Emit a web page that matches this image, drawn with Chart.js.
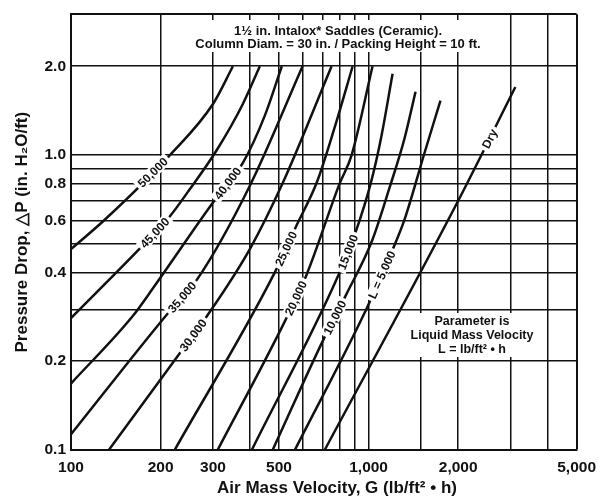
<!DOCTYPE html>
<html lang="en">
  <head>
    <meta charset="UTF-8" />
    <title>Pressure Drop - Intalox Saddles</title>
    <script src="https://cdn.jsdelivr.net/npm/chart.js"></script>
    <style>
      html,
      body {
        margin: 0;
        padding: 0;
        background: #fff;
      }
    </style>
  </head>
  <body>
    <canvas id="grafico" width="604" height="496"></canvas>

    <script>
      // Air mass velocity G (lb/ft2 h) vs pressure drop (in. H2O/ft), one pair per curve
      const G_50K = [100, 129, 215, 300, 350];
      const P_50K = [0.48, 0.6, 1.0, 1.49, 2.0];
      const G_45K = [100, 173, 215, 247, 309, 378, 431];
      const P_45K = [0.28, 0.49, 0.62, 0.75, 1.04, 1.49, 2.0];
      const G_40K = [100, 161, 188, 300, 378, 448, 511];
      const P_40K = [0.168, 0.284, 0.352, 0.69, 0.94, 1.36, 2.0];
      const G_35K = [100, 210, 265, 399, 600];
      const P_35K = [0.113, 0.288, 0.378, 0.787, 2.0];
      const G_30K = [134, 232, 286, 399, 515, 751];
      const P_30K = [0.1, 0.213, 0.284, 0.48, 0.805, 2.0];
      const G_25K = [223, 484, 573, 669, 769, 884];
      const P_25K = [0.1, 0.4, 0.578, 0.805, 1.24, 2.0];
      const G_20K = [311, 523, 619, 799, 877, 1031];
      const P_20K = [0.1, 0.273, 0.393, 0.8, 1.0, 2.0];
      const G_15K = [405, 799, 911, 1016, 1097, 1204];
      const P_15K = [0.1, 0.4, 0.56, 0.8, 1.12, 1.885];
      const G_10K = [476, 701, 844, 1023, 1176, 1321, 1438];
      const P_10K = [0.1, 0.234, 0.339, 0.507, 0.775, 1.14, 1.64];
      const G_5K = [565, 985, 1195, 1321, 1541, 1744];
      const P_5K = [0.1, 0.302, 0.469, 0.605, 1.016, 1.53];
      const G_DRY = [712, 2000, 3113];
      const P_DRY = [0.1, 0.7, 1.7];

      // curve labels and the G where each label sits on its curve
      const NOMES = ["50,000", "45,000", "40,000", "35,000", "30,000", "25,000", "20,000", "15,000", "10,000", "L = 5,000", "Dry"];
      const G_ROTULO = [188, 191, 336, 236, 257, 527, 569, 850, 769, 1106, 2547];

      // axis ticks
      const G_GRADE = [100, 200, 300, 400, 500, 600, 700, 800, 900, 1000, 1500, 2000, 3000, 4000, 5000];
      const G_TEXTO = [100, 200, 300, 500, 1000, 2000, 5000];
      const P_GRADE = [0.1, 0.2, 0.3, 0.4, 0.5, 0.6, 0.7, 0.8, 0.9, 1, 2, 3];
      const P_TEXTO = [0.1, 0.2, 0.4, 0.6, 0.8, 1, 2];

      const curvasG = [G_50K, G_45K, G_40K, G_35K, G_30K, G_25K, G_20K, G_15K, G_10K, G_5K, G_DRY];
      const curvasP = [P_50K, P_45K, P_40K, P_35K, P_30K, P_25K, P_20K, P_15K, P_10K, P_5K, P_DRY];

      const FONTE = "'Liberation Sans', Arial, sans-serif";
      const PRETO = "#111";

      // labels on the curves, text boxes and x title
      const rotulos = {
        id: "rotulos",
        afterDatasetsDraw(chart) {
          const ctx = chart.ctx;
          const xs = chart.scales.x;
          ctx.save();
          ctx.textAlign = "center";
          ctx.textBaseline = "middle";

          ctx.font = "bold 12px " + FONTE;
          NOMES.forEach((nome, i) => {
            const pts = chart.getDatasetMeta(i).data;
            const px = xs.getPixelForValue(G_ROTULO[i]);
            let k = 0;
            while (k < pts.length - 2 && pts[k + 1].x < px) k++;
            const a = pts[k];
            const b = pts[k + 1];
            const t = (px - a.x) / (b.x - a.x);
            const py = a.y + t * (b.y - a.y);
            const ang = Math.atan2(b.y - a.y, b.x - a.x);
            const w = ctx.measureText(nome).width;
            ctx.save();
            ctx.translate(px, py);
            ctx.rotate(ang);
            ctx.fillStyle = "#fff";
            ctx.fillRect(-w / 2 - 3, -6, w + 6, 12);
            ctx.fillStyle = PRETO;
            ctx.fillText(nome, 0, 1);
            ctx.restore();
          });

          // title block
          ctx.font = "bold 13px " + FONTE;
          ctx.fillStyle = "#fff";
          ctx.fillRect(193, 20, 290, 32);
          ctx.fillStyle = PRETO;
          ctx.fillText("1½ in. Intalox* Saddles (Ceramic).", 338, 31);
          ctx.fillText("Column Diam. = 30 in. / Packing Height = 10 ft.", 338, 44);

          // parameter block
          ctx.font = "bold 12.5px " + FONTE;
          ctx.fillStyle = "#fff";
          ctx.fillRect(406, 313, 134, 44);
          ctx.fillStyle = PRETO;
          ctx.fillText("Parameter is", 472, 322);
          ctx.fillText("Liquid Mass Velocity", 472, 336);
          ctx.fillText("L = lb/ft² • h", 472, 350);

          ctx.font = "bold 17px " + FONTE;
          ctx.fillText("Air Mass Velocity, G (lb/ft² • h)", 337, 488);
          ctx.restore();
        },
      };

      const ctx = document.getElementById("grafico").getContext("2d");

      new Chart(ctx, {
        type: "scatter",
        data: {
          datasets: curvasG.map((gs, i) => ({
            label: NOMES[i],
            data: gs.map((g, j) => ({ x: g, y: curvasP[i][j] })),
            showLine: true,
            borderColor: PRETO,
            borderWidth: 2.5,
            pointRadius: 0,
            cubicInterpolationMode: "monotone",
            fill: false,
          })),
        },
        options: {
          responsive: false,
          animation: false,
          devicePixelRatio: 1,
          layout: { padding: { top: 10, right: 26, left: 0, bottom: 0 } },
          plugins: {
            legend: { display: false },
            tooltip: { enabled: false },
          },
          scales: {
            x: {
              type: "logarithmic",
              min: 100,
              max: 5000,
              afterBuildTicks: (s) => {
                s.ticks = G_GRADE.map((v) => ({ value: v }));
              },
              afterFit: (s) => {
                s.height = 46;
              },
              ticks: {
                autoSkip: false,
                maxRotation: 0,
                padding: 8,
                color: PRETO,
                font: { family: FONTE, size: 15.5, weight: "bold" },
                callback: (v) => (G_TEXTO.includes(v) ? v.toLocaleString("en-US") : ""),
              },
              grid: {
                color: PRETO,
                lineWidth: (c) => (c.tick && c.tick.value === 5000 ? 2 : 1.5),
                drawTicks: false,
              },
              border: { color: PRETO, width: 2 },
            },
            y: {
              type: "logarithmic",
              min: 0.1,
              max: 3,
              afterBuildTicks: (s) => {
                s.ticks = P_GRADE.map((v) => ({ value: v }));
              },
              afterFit: (s) => {
                s.width = 71;
              },
              ticks: {
                autoSkip: false,
                padding: 5,
                color: PRETO,
                font: { family: FONTE, size: 15.5, weight: "bold" },
                callback: (v) => (P_TEXTO.includes(v) ? v.toFixed(1) : ""),
              },
              grid: {
                color: PRETO,
                lineWidth: (c) => (c.tick && c.tick.value === 3 ? 2 : 1.5),
                drawTicks: false,
              },
              border: { color: PRETO, width: 2 },
              title: {
                display: true,
                text: "Pressure Drop, △P (in. H₂O/ft)",
                color: PRETO,
                font: { family: FONTE, size: 17, weight: "bold" },
                padding: { top: 12, bottom: 0 },
              },
            },
          },
        },
        plugins: [rotulos],
      });
    </script>
  </body>
</html>
